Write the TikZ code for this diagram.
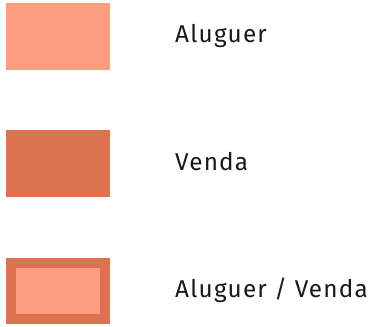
\documentclass[tikz,border=0pt]{standalone}
\usepackage{fontspec}
\setmainfont{Fira Sans}[LetterSpace=5]
\definecolor{light}{RGB}{253,158,126}
\definecolor{dark}{RGB}{220,115,80}
\begin{document}
\begin{tikzpicture}[x=1pt,y=-1pt,
  lbl/.style={anchor=base west,inner sep=0pt,font=\fontsize{24.3}{27}\selectfont,text=black!90}]
\useasboundingbox (0,0) rectangle (382,326);
\fill[light] (6,3) rectangle (110,70);
\node[lbl] (a) at (175,42.5) {Aluguer};
\fill[dark] (6,130) rectangle (110,197);
\node[lbl] (b) at (175,170.5) {Venda};
\fill[dark] (6,258) rectangle (110,324);
\fill[light] (16,268) rectangle (100,314);
\node[lbl] (c) at (175,297.5) {Aluguer / Venda};
\end{tikzpicture}
\end{document}
